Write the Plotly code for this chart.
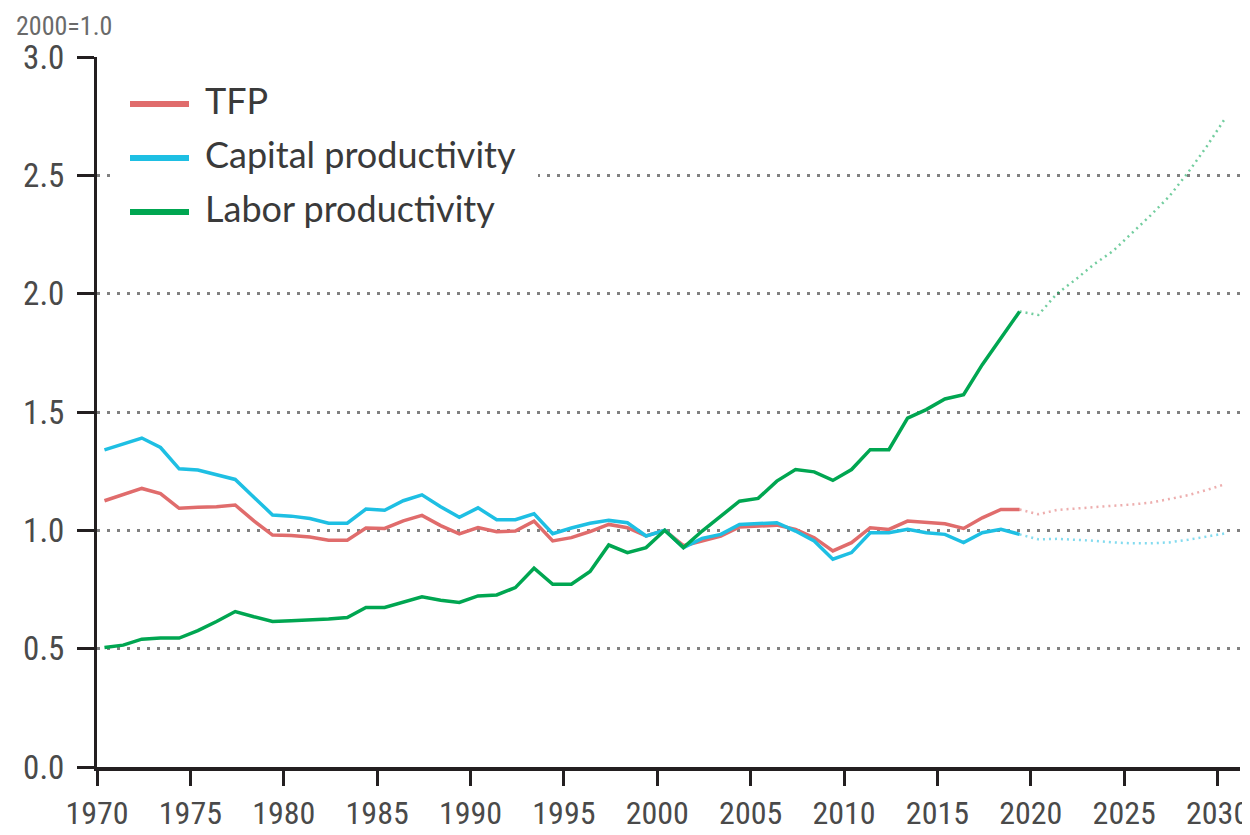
import plotly.graph_objects as go

# ---------------- data ----------------
years_hist = list(range(1970, 2020))
years_proj = list(range(2019, 2031))
X_OFFSET = 0.4  # annual values plotted within the year

tfp_hist = [1.125, 1.15, 1.177, 1.155, 1.093, 1.098, 1.10, 1.107, 1.04, 0.98,
            0.978, 0.972, 0.958, 0.958, 1.01, 1.008, 1.04, 1.063, 1.02, 0.985,
            1.012, 0.994, 0.997, 1.039, 0.955, 0.969, 0.995, 1.025, 1.011, 0.976,
            1.0, 0.935, 0.955, 0.976, 1.014, 1.018, 1.022, 1.004, 0.969, 0.913,
            0.948, 1.011, 1.004, 1.039, 1.033, 1.028, 1.008, 1.053, 1.088, 1.088]
cap_hist = [1.34, 1.365, 1.39, 1.35, 1.26, 1.255, 1.235, 1.215, 1.14, 1.065,
            1.06, 1.05, 1.03, 1.03, 1.09, 1.085, 1.125, 1.15, 1.10, 1.055,
            1.095, 1.045, 1.045, 1.07, 0.986, 1.01, 1.03, 1.042, 1.032, 0.976,
            1.0, 0.927, 0.966, 0.983, 1.025, 1.03, 1.032, 0.997, 0.955, 0.878,
            0.906, 0.99, 0.99, 1.004, 0.99, 0.983, 0.948, 0.99, 1.004, 0.983]
lab_hist = [0.505, 0.515, 0.54, 0.545, 0.545, 0.576, 0.615, 0.657, 0.635, 0.615,
            0.618, 0.62, 0.625, 0.632, 0.674, 0.674, 0.695, 0.719, 0.705, 0.695,
            0.723, 0.727, 0.758, 0.84, 0.772, 0.772, 0.826, 0.938, 0.906, 0.927,
            1.0, 0.927, 0.997, 1.06, 1.123, 1.135, 1.208, 1.257, 1.247, 1.211,
            1.257, 1.341, 1.341, 1.474, 1.51, 1.555, 1.573, 1.70, 1.81, 1.925]

tfp_proj = [1.088, 1.068, 1.086, 1.093, 1.098, 1.104, 1.109, 1.117, 1.132, 1.148, 1.17, 1.195]
cap_proj = [0.983, 0.962, 0.964, 0.961, 0.956, 0.949, 0.945, 0.945, 0.949, 0.96, 0.972, 0.987]
lab_proj = [1.925, 1.91, 2.0, 2.06, 2.125, 2.18, 2.255, 2.33, 2.41, 2.51, 2.62, 2.74]

series_names = ["TFP", "Capital productivity", "Labor productivity"]
colors = ["#e06c6c", "#1ebfe3", "#00a651"]
x_ticks = list(range(1970, 2031, 5))
y_ticks = [0.0, 0.5, 1.0, 1.5, 2.0, 2.5, 3.0]
unit_label = "2000=1.0"

# ---------------- figure ----------------
AXIS = "#231f20"
TXT = "#4a4a4a"
NARROW = "Roboto Condensed, DejaVu Sans Condensed, sans-serif"
LEGFONT = "Lato, Noto Sans, sans-serif"

# the page body adds an 8px margin; size the figure so it fills the window
PAGE = 8
FW, FH = 1250 - PAGE, 835 - PAGE
# plot-area edges in window pixels
SL, SR, ST, SB = 97, 1240, 57, 767
PL, PR, PT, PB = SL - PAGE, SR - PAGE, ST - PAGE, SB - PAGE
W, H = PR - PL, PB - PT
def px(x):  # window x -> paper
    return (x - PAGE - PL) / W
def py(y):  # window y -> paper
    return (PB - (y - PAGE)) / H

fig = go.Figure()
hist = [tfp_hist, cap_hist, lab_hist]
proj = [tfp_proj, cap_proj, lab_proj]
xh = [y + X_OFFSET for y in years_hist]
xp = [y + X_OFFSET for y in years_proj]
for name, col, h, p in zip(series_names, colors, hist, proj):
    fig.add_trace(go.Scatter(x=xh, y=h, mode="lines", name=name,
                             line=dict(color=col, width=3.5), showlegend=False))
    fig.add_trace(go.Scatter(x=xp, y=p, mode="lines", name=name + " (projection)",
                             line=dict(color=col, width=2.5, dash="2px,4px"),
                             opacity=0.55, showlegend=False))

shapes = [dict(type="rect", xref="paper", yref="paper", x0=px(112), x1=px(538),
               y0=py(236), y1=py(74), fillcolor="white", line=dict(width=0), layer="above")]
annotations = []
for i, (name, col) in enumerate(zip(series_names, colors)):
    yy = 104 + i * 54
    shapes.append(dict(type="line", xref="paper", yref="paper", x0=px(130), x1=px(189),
                       y0=py(yy), y1=py(yy), line=dict(color=col, width=6), layer="above"))
    annotations.append(dict(text=name, xref="paper", yref="paper", x=px(203), y=py(yy - 4),
                            xanchor="left", yanchor="middle", showarrow=False,
                            font=dict(family=LEGFONT, size=36, color="#3a3a3a")))
annotations.append(dict(text=unit_label, xref="paper", yref="paper", x=px(14), y=py(9),
                        xanchor="left", yanchor="top", showarrow=False,
                        font=dict(family=NARROW, size=26, color="#6a6a6a")))

fig.update_layout(
    width=FW, height=FH,
    margin=dict(l=PL, r=FW - PR, t=PT, b=FH - PB, pad=0),
    paper_bgcolor="white", plot_bgcolor="white",
    shapes=shapes, annotations=annotations,
    xaxis=dict(range=[1970, 2031.2], tickvals=x_ticks, ticktext=[str(t) for t in x_ticks],
               showgrid=False, zeroline=False, showline=True, linecolor=AXIS, linewidth=4,
               ticks="outside", ticklen=15, tickwidth=3, tickcolor=AXIS, automargin=False,
               ticklabeloverflow="allow",
               tickfont=dict(family=NARROW, size=32, color=TXT), ticklabelstandoff=0),
    yaxis=dict(range=[0, 3.0], tickvals=y_ticks, ticktext=[f"{v:.1f}" for v in y_ticks],
               showgrid=True, gridcolor="#808080", gridwidth=3, griddash="3px,7px",
               zeroline=False, showline=True, linecolor=AXIS, linewidth=3, automargin=False,
               ticklabeloverflow="allow",
               ticks="outside", ticklen=17, tickwidth=3, tickcolor=AXIS,
               tickfont=dict(family=NARROW, size=33, color=TXT), ticklabelstandoff=6),
)

fig.write_html("out.html")
